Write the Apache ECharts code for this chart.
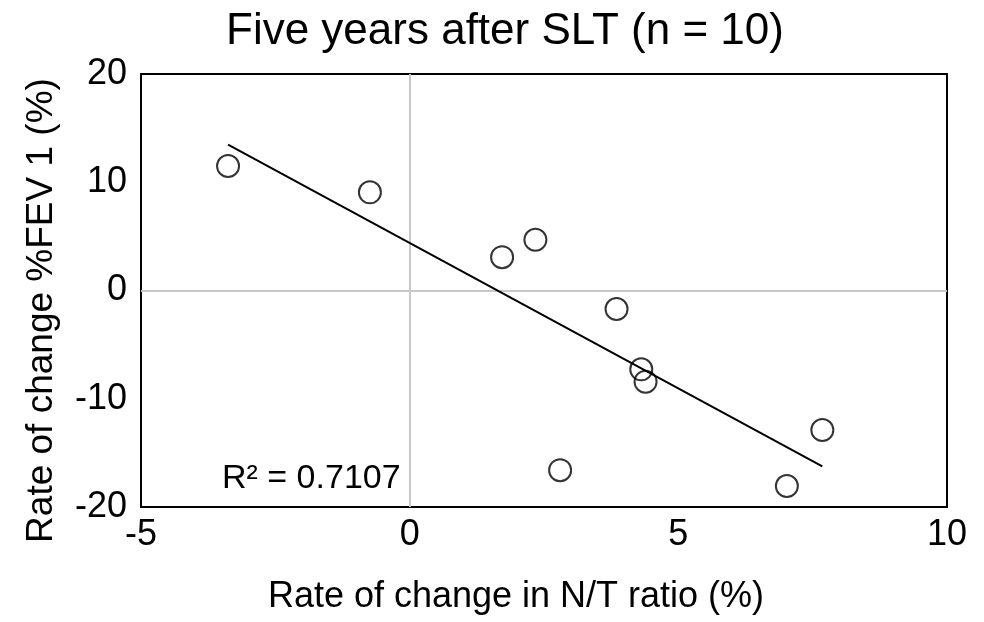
<!DOCTYPE html>
<html>
<head>
<meta charset="utf-8">
<script src="https://cdn.jsdelivr.net/npm/echarts@6/dist/echarts.min.js"></script>
<style>html,body{margin:0;padding:0;background:#fff}#c{width:984px;height:622px}</style>
</head>
<body>
<div id="c"></div>
<script>
const ntRatioChange = [-3.38, -0.74, 1.72, 2.34, 3.85, 4.31, 4.39, 2.80, 7.02, 7.68];
const fevChange = [11.5, 9.07, 3.08, 4.69, -1.71, -7.28, -8.42, -16.6, -18.06, -12.89];
const xTicks = [-5, 0, 5, 10];
const yTicks = [-20, -10, 0, 10, 20];
const titleText = 'Five years after SLT (n = 10)';
const xName = 'Rate of change in N/T ratio (%)';
const yName = 'Rate of change %FEV 1 (%)';
const r2Text = 'R² = 0.7107';

const points = ntRatioChange.map((x, i) => [x, fevChange[i]]);
// least-squares trendline
const n = points.length;
const mx = ntRatioChange.reduce((a, b) => a + b, 0) / n;
const my = fevChange.reduce((a, b) => a + b, 0) / n;
let sxy = 0, sxx = 0;
for (let i = 0; i < n; i++) { sxy += (ntRatioChange[i] - mx) * (fevChange[i] - my); sxx += (ntRatioChange[i] - mx) ** 2; }
const slope = sxy / sxx, icpt = my - slope * mx;
const xmin = Math.min(...ntRatioChange), xmax = Math.max(...ntRatioChange);
const trend = [[xmin, icpt + slope * xmin], [xmax, icpt + slope * xmax]];

const font = 'Liberation Sans, Arial, sans-serif';
const chart = echarts.init(document.getElementById('c'));
chart.setOption({
  animation: false,
  title: { text: titleText, left: 221, top: 5, textStyle: { fontFamily: font, fontSize: 44, fontWeight: 'normal', color: '#000' } },
  grid: { left: 141, right: 37, top: 74, bottom: 115, show: true, borderColor: '#000', borderWidth: 2, backgroundColor: '#fff' },
  xAxis: {
    type: 'value', min: xTicks[0], max: xTicks[xTicks.length - 1], interval: 5,
    name: xName, nameLocation: 'middle', nameGap: 72,
    nameTextStyle: { fontFamily: font, fontSize: 36, color: '#000', padding: [0, 56, 0, 0] },
    axisLine: { show: true, onZero: false, lineStyle: { color: '#000', width: 2 } },
    axisTick: { show: false }, splitLine: { show: false },
    axisLabel: { fontFamily: font, fontSize: 36, color: '#000', margin: 10 }
  },
  yAxis: {
    type: 'value', min: yTicks[0], max: yTicks[yTicks.length - 1], interval: 10,
    name: yName, nameLocation: 'middle', nameGap: 81,
    nameTextStyle: { fontFamily: font, fontSize: 37, color: '#000', padding: [0, 40, 0, 0] },
    axisLine: { show: true, onZero: false, lineStyle: { color: '#000', width: 2 } },
    axisTick: { show: false }, splitLine: { show: false },
    axisLabel: { fontFamily: font, fontSize: 36, color: '#000', margin: 14 }
  },
  series: [
    {
      type: 'line', data: trend, symbol: 'none', silent: true, z: 3,
      lineStyle: { color: '#000', width: 2 },
      markLine: {
        silent: true, symbol: 'none', label: { show: false },
        lineStyle: { color: '#c8c8c8', width: 2, type: 'solid' },
        data: [{ xAxis: 0 }, { yAxis: 0 }], z: 1
      }
    },
    {
      type: 'scatter', data: points, symbol: 'circle', symbolSize: 22, z: 4,
      itemStyle: { color: 'rgba(0,0,0,0)', borderColor: '#000', borderWidth: 2 }
    }
  ],
  graphic: [{ type: 'text', left: 222, top: 462, style: { text: r2Text, font: '34px ' + font, fill: '#000' } }]
});
</script>
</body>
</html>
